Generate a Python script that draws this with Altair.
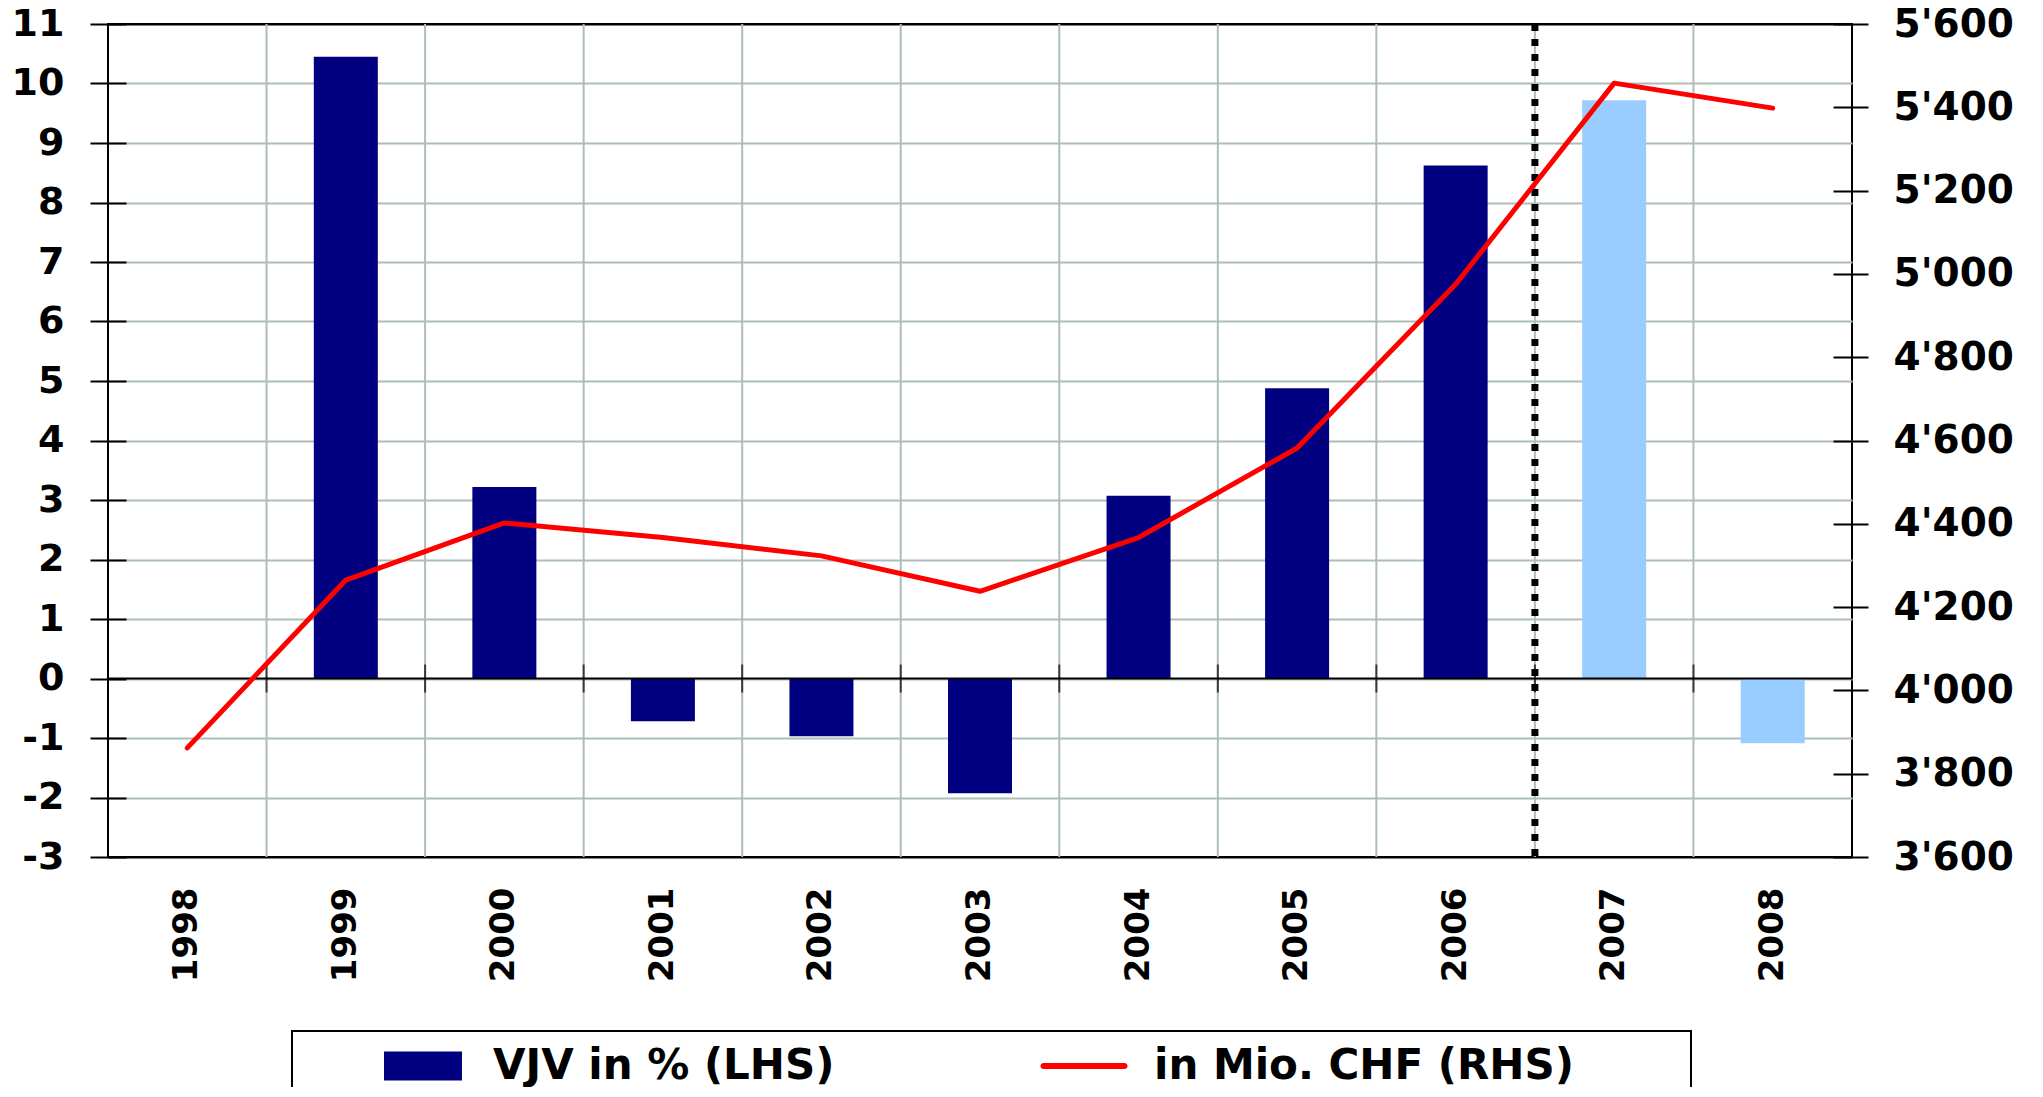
import altair as alt
import pandas as pd

# ---- data ----
years = ["1998", "1999", "2000", "2001", "2002", "2003", "2004", "2005", "2006", "2007", "2008"]
vjv_pct = [None, 10.45, 3.22, -0.72, -0.97, -1.93, 3.07, 4.88, 8.62, 9.72, -1.09]
chf_mio = [3862, 4265, 4402, 4367, 4323, 4238, 4367, 4582, 4975, 5458, 5398]
is_forecast = [False, False, False, False, False, False, False, False, False, True, True]
left_ticks = [-3, -2, -1, 0, 1, 2, 3, 4, 5, 6, 7, 8, 9, 10, 11]
right_ticks = [3600, 3800, 4000, 4200, 4400, 4600, 4800, 5000, 5200, 5400, 5600]
forecast_start = ["2007"]
bar_label = "VJV in % (LHS)"
line_label = "in Mio. CHF (RHS)"
series_labels = [bar_label, line_label]

NAVY = "#000080"
LIGHT = "#99ccff"
RED = "#ff0000"
GRID = "#adbdb8"
FONT = "DejaVu Sans"

# legend symbol shapes (unit paths, scaled by the legend symbol size: 1 unit = 15 px)
RECT_PATH = "M-2.6,-0.967H2.6V0.967H-2.6Z"
LINE_PATH = "M-2.7,-0.2H2.7A0.2,0.2,0,0,1,2.7,0.2H-2.7A0.2,0.2,0,0,1,-2.7,-0.2Z"

df = pd.DataFrame({"year": years, "vjv": vjv_pct, "chf": chf_mio, "forecast": is_forecast})
legend_df = pd.DataFrame({"series": series_labels})
first_year = years[0]

xscale = alt.Scale(domain=years, paddingInner=0, paddingOuter=0)
yleft = alt.Scale(domain=[left_ticks[0], left_ticks[-1]], nice=False, zero=False)
yright = alt.Scale(domain=[right_ticks[0], right_ticks[-1]], nice=False, zero=False)
cscale = alt.Scale(domain=series_labels, range=[NAVY, RED])
sscale = alt.Scale(domain=series_labels, range=[RECT_PATH, LINE_PATH])

# trailing non-breaking spaces widen the legend frame like the reference (zero-width space keeps them)
pad_text = "\u00a0" * 7 + "\u200b"

legend = alt.Legend(
    title=None,
    orient="none",
    legendX=184,
    legendY=1007,
    direction="horizontal",
    labelFont=FONT,
    labelFontSize=42,
    labelFontWeight="bold",
    labelColor="black",
    labelLimit=1000,
    labelExpr=f"datum.label + (datum.value === '{line_label}' ? '{pad_text}' : '')",
    strokeColor="black",
    padding=14,
    symbolSize=900,
    symbolOffset=96,
    symbolOpacity=1,
    symbolStrokeWidth=0,
    labelOffset=49,
    columnPadding=132,
)

x_axis = alt.Axis(
    title=None, labelAngle=270, labelFontSize=34, labelPadding=30, bandPosition=0.5,
    ticks=False, tickSize=0, domain=False, grid=False,
)

left_axis = alt.Axis(
    title=None, orient="left", values=left_ticks, offset=-18, tickSize=36,
    tickWidth=2, tickColor="black", domain=False, grid=True,
    gridColor={"condition": {"test": f"datum.value == {left_ticks[0]} || datum.value == {left_ticks[-1]}",
                             "value": "black"}, "value": GRID},
    gridWidth=2, labelFontSize=38, labelPadding=26,
    labelExpr="'' + datum.value",
)

right_axis = alt.Axis(
    title=None, orient="right", values=right_ticks, offset=-19, tickSize=35,
    tickWidth=2, tickColor="black", domain=False, grid=False,
    labelFontSize=39, labelPadding=25,
    labelExpr='replace(format(datum.value, ","), ",", "\'")',
)

base = alt.Chart(df)

vgrid = base.transform_filter(f"datum.year != '{first_year}'").mark_rule(
    color=GRID, strokeWidth=2
).encode(x=alt.X("year:N", scale=xscale, bandPosition=0, axis=x_axis))

bars = base.transform_filter("isValid(datum.vjv)").mark_bar(width=64).encode(
    x=alt.X("year:N", scale=xscale, axis=x_axis),
    y=alt.Y("vjv:Q", scale=yleft, axis=left_axis),
    color=alt.condition("datum.forecast", alt.value(LIGHT), alt.value(NAVY)),
)

zero_rule = alt.Chart(pd.DataFrame({"vjv": [0]})).mark_rule(color="black", strokeWidth=2).encode(
    y=alt.Y("vjv:Q", scale=yleft, axis=left_axis)
)

cross_ticks = base.mark_tick(orient="vertical", size=28, thickness=2, color="black").encode(
    x=alt.X("year:N", scale=xscale, bandPosition=0, axis=x_axis),
    y=alt.YDatum(0, scale=yleft, axis=left_axis),
)

dotted = alt.Chart(pd.DataFrame({"year": forecast_start})).mark_rule(
    color="black", strokeWidth=7, strokeDash=[7, 8]
).encode(x=alt.X("year:N", scale=xscale, bandPosition=0, axis=x_axis))

left_group = alt.layer(vgrid, bars, zero_rule, cross_ticks, dotted)

line = base.mark_line(strokeWidth=5, strokeCap="round", strokeJoin="round", color=RED).encode(
    x=alt.X("year:N", scale=xscale, axis=x_axis),
    y=alt.Y("chf:Q", scale=yright, axis=right_axis),
)

legend_points = alt.Chart(legend_df).mark_point(filled=True, size=0, opacity=0).encode(
    color=alt.Color("series:N", scale=cscale, legend=legend),
    shape=alt.Shape("series:N", scale=sscale, legend=legend),
)

right_group = alt.layer(line, legend_points)

chart = (
    alt.layer(left_group, right_group)
    .resolve_scale(y="independent")
    .properties(
        width=1744,
        height=833,
        autosize=alt.AutoSizeParams(type="none"),
        padding={"left": 100, "top": 16, "right": 175, "bottom": 230},
    )
    .configure_view(stroke="black", strokeWidth=2)
    .configure_axis(labelFont=FONT, labelFontWeight="bold", labelColor="black")
    .configure_legend(strokeWidth=2)
)

chart.save("out.html", embed_options={"renderer": "svg", "actions": False})
